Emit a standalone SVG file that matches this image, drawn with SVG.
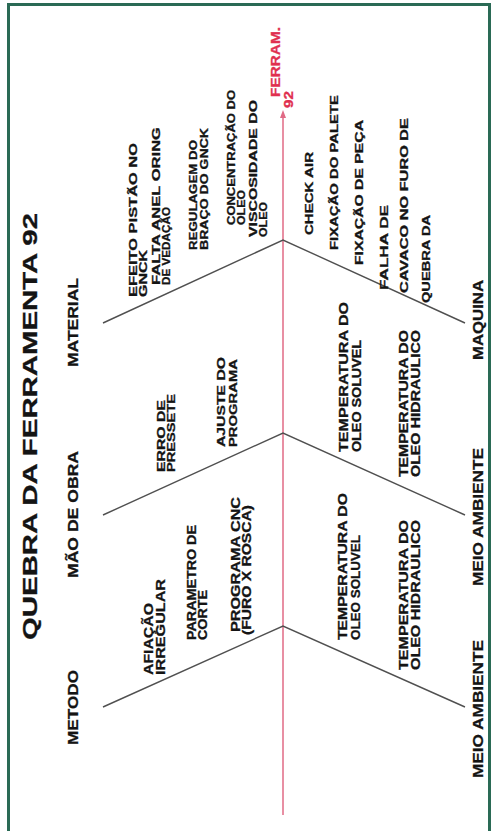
<svg xmlns="http://www.w3.org/2000/svg" width="493" height="831" viewBox="0 0 493 831">
<style>
.t{font-family:"Liberation Sans",Arial,sans-serif;font-weight:bold;fill:#141414;stroke:#141414;stroke-width:0.3}
.s{font-size:11.5px}.m{font-size:12.5px}.c{font-size:15px}.h{font-size:21px}
.red{fill:#e0304f;stroke:#e0304f;font-size:13px}
.bone{stroke:#505050;stroke-width:1.4;fill:none}
.spine{stroke:#e06a85;stroke-width:1.5;fill:none}
</style>
<defs>
<marker id="arr" markerWidth="8" markerHeight="8" refX="4" refY="4" orient="auto" markerUnits="userSpaceOnUse">
<path d="M0,1 L8,4 L0,7 Z" fill="#e06a85"/>
</marker>
</defs>
<rect x="0" y="0" width="493" height="831" fill="#fff"/>
<rect x="8.5" y="4.5" width="481" height="840" fill="#fff" stroke="#2a6a55" stroke-width="3"/>

<g id="connectors">
<line class="spine" x1="283" y1="815" x2="283" y2="114" marker-end="url(#arr)"/>
<polyline class="bone" points="103,323 283,240 465,323"/>
<polyline class="bone" points="103,515 283,433 465,515"/>
<polyline class="bone" points="103,707 283,626 465,707"/>
</g>

<g id="title"><text class="t h" transform="translate(37,640) rotate(-90)" textLength="427" lengthAdjust="spacingAndGlyphs">QUEBRA DA FERRAMENTA 92</text></g>

<g id="head">
<text class="t red" transform="translate(280,97) rotate(-90)" textLength="70" lengthAdjust="spacingAndGlyphs">FERRAM.</text>
<text class="t red" transform="translate(293,108) rotate(-90)" textLength="17" lengthAdjust="spacingAndGlyphs">92</text>
</g>

<g id="cat-metodo"><text class="t c" transform="translate(78,745) rotate(-90)" textLength="75" lengthAdjust="spacingAndGlyphs">METODO</text></g>
<g id="cat-mao-de-obra"><text class="t c" transform="translate(78,578) rotate(-90)" textLength="127" lengthAdjust="spacingAndGlyphs">MÃO DE OBRA</text></g>
<g id="cat-material"><text class="t c" transform="translate(78,367) rotate(-90)" textLength="89" lengthAdjust="spacingAndGlyphs">MATERIAL</text></g>
<g id="cat-maquina"><text class="t c" transform="translate(483,360) rotate(-90)" textLength="80" lengthAdjust="spacingAndGlyphs">MAQUINA</text></g>
<g id="cat-meio-ambiente-1"><text class="t c" transform="translate(483,586) rotate(-90)" textLength="138" lengthAdjust="spacingAndGlyphs">MEIO AMBIENTE</text></g>
<g id="cat-meio-ambiente-2"><text class="t c" transform="translate(483,778) rotate(-90)" textLength="138" lengthAdjust="spacingAndGlyphs">MEIO AMBIENTE</text></g>

<g id="material-causes">
<text class="t s" transform="translate(137,297) rotate(-90)" textLength="154" lengthAdjust="spacingAndGlyphs">EFEITO PISTÃO NO</text>
<text class="t s" transform="translate(147,297) rotate(-90)" textLength="47" lengthAdjust="spacingAndGlyphs">GNCK</text>
<text class="t s" transform="translate(160,285) rotate(-90)" textLength="158" lengthAdjust="spacingAndGlyphs">FALTA ANEL ORING</text>
<text class="t s" transform="translate(170,285) rotate(-90)" textLength="78" lengthAdjust="spacingAndGlyphs">DE VEDAÇÃO</text>
<text class="t s" transform="translate(197,250) rotate(-90)" textLength="110" lengthAdjust="spacingAndGlyphs">REGULAGEM DO</text>
<text class="t s" transform="translate(208,250) rotate(-90)" textLength="122" lengthAdjust="spacingAndGlyphs">BRAÇO DO GNCK</text>
<text class="t s" transform="translate(235,225) rotate(-90)" textLength="135" lengthAdjust="spacingAndGlyphs">CONCENTRAÇÃO DO</text>
<text class="t s" transform="translate(245,225) rotate(-90)" textLength="35" lengthAdjust="spacingAndGlyphs">OLEO</text>
<text class="t s" transform="translate(257,237) rotate(-90)" textLength="137" lengthAdjust="spacingAndGlyphs">VISCOSIDADE DO</text>
<text class="t s" transform="translate(267,237) rotate(-90)" textLength="35" lengthAdjust="spacingAndGlyphs">OLEO</text>
</g>

<g id="mao-de-obra-causes">
<text class="t s" transform="translate(165,472) rotate(-90)" textLength="72" lengthAdjust="spacingAndGlyphs">ERRO DE</text>
<text class="t s" transform="translate(175,472) rotate(-90)" textLength="78" lengthAdjust="spacingAndGlyphs">PRESSETE</text>
<text class="t s" transform="translate(225,447) rotate(-90)" textLength="90" lengthAdjust="spacingAndGlyphs">AJUSTE DO</text>
<text class="t s" transform="translate(237,447) rotate(-90)" textLength="88" lengthAdjust="spacingAndGlyphs">PROGRAMA</text>
</g>

<g id="metodo-causes">
<text class="t m" transform="translate(153,675) rotate(-90)" textLength="72" lengthAdjust="spacingAndGlyphs">AFIAÇÃO</text>
<text class="t m" transform="translate(165,675) rotate(-90)" textLength="96" lengthAdjust="spacingAndGlyphs">IRREGULAR</text>
<text class="t m" transform="translate(196,640) rotate(-90)" textLength="115" lengthAdjust="spacingAndGlyphs">PARAMETRO DE</text>
<text class="t m" transform="translate(207,640) rotate(-90)" textLength="50" lengthAdjust="spacingAndGlyphs">CORTE</text>
<text class="t m" transform="translate(240,632) rotate(-90)" textLength="135" lengthAdjust="spacingAndGlyphs">PROGRAMA CNC</text>
<text class="t m" transform="translate(251,635) rotate(-90)" textLength="130" lengthAdjust="spacingAndGlyphs">(FURO X ROSCA)</text>
</g>

<g id="maquina-causes">
<text class="t s" transform="translate(313,235) rotate(-90)" textLength="83" lengthAdjust="spacingAndGlyphs">CHECK AIR</text>
<text class="t s" transform="translate(338,250) rotate(-90)" textLength="155" lengthAdjust="spacingAndGlyphs">FIXAÇÃO DO PALETE</text>
<text class="t s" transform="translate(363,265) rotate(-90)" textLength="145" lengthAdjust="spacingAndGlyphs">FIXAÇÃO DE PEÇA</text>
<text class="t s" transform="translate(388,290) rotate(-90)" textLength="85" lengthAdjust="spacingAndGlyphs">FALHA DE</text>
<text class="t s" transform="translate(408,293) rotate(-90)" textLength="175" lengthAdjust="spacingAndGlyphs">CAVACO NO FURO DE</text>
<text class="t s" transform="translate(430,303) rotate(-90)" textLength="88" lengthAdjust="spacingAndGlyphs">QUEBRA DA</text>
</g>

<g id="meio-ambiente-1-causes">
<text class="t m" transform="translate(348,452) rotate(-90)" textLength="150" lengthAdjust="spacingAndGlyphs">TEMPERATURA DO</text>
<text class="t m" transform="translate(361,452) rotate(-90)" textLength="112" lengthAdjust="spacingAndGlyphs">OLEO SOLUVEL</text>
<text class="t m" transform="translate(408,477) rotate(-90)" textLength="147" lengthAdjust="spacingAndGlyphs">TEMPERATURA DO</text>
<text class="t m" transform="translate(420,477) rotate(-90)" textLength="147" lengthAdjust="spacingAndGlyphs">OLEO HIDRAULICO</text>
</g>

<g id="meio-ambiente-2-causes">
<text class="t m" transform="translate(347,640) rotate(-90)" textLength="147" lengthAdjust="spacingAndGlyphs">TEMPERATURA DO</text>
<text class="t m" transform="translate(360,640) rotate(-90)" textLength="105" lengthAdjust="spacingAndGlyphs">OLEO SOLUVEL</text>
<text class="t m" transform="translate(408,670) rotate(-90)" textLength="150" lengthAdjust="spacingAndGlyphs">TEMPERATURA DO</text>
<text class="t m" transform="translate(420,670) rotate(-90)" textLength="150" lengthAdjust="spacingAndGlyphs">OLEO HIDRAULICO</text>
</g>
</svg>
